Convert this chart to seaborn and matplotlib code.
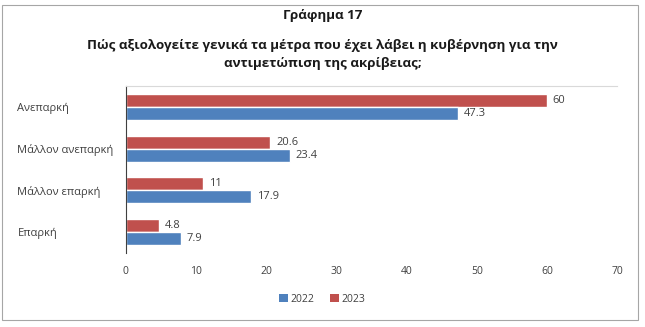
import matplotlib
matplotlib.use("Agg")
import matplotlib.pyplot as plt
import seaborn as sns
import pandas as pd
from matplotlib.patches import Patch, Rectangle

categories = ["Ανεπαρκή", "Μάλλον ανεπαρκή", "Μάλλον επαρκή", "Επαρκή"]
values_2022 = [47.3, 23.4, 17.9, 7.9]
values_2023 = [60, 20.6, 11, 4.8]
years = ["2022", "2023"]
colors = {"2022": "#4F81BD", "2023": "#C0504D"}
xticks = [0, 10, 20, 30, 40, 50, 60, 70]

df = pd.DataFrame({
    "cat": categories * 2,
    "year": ["2023"] * 4 + ["2022"] * 4,
    "val": values_2023 + values_2022,
})

sns.set_theme(style="white")
plt.rcParams["font.family"] = ["Open Sans", "DejaVu Sans"]

fig = plt.figure(figsize=(6.45, 3.27), dpi=100)
ax = fig.add_axes([0.195, 0.226, 0.762, 0.511])

sns.barplot(data=df, y="cat", x="val", hue="year", hue_order=["2023", "2022"],
            order=categories, palette=colors, orient="h", width=0.62,
            ax=ax, legend=False, saturation=1)

for cont in ax.containers:
    ax.bar_label(cont, labels=[f"{v:g}" for v in cont.datavalues],
                 padding=4, fontsize=8, color="#404040")

ax.set_xlim(0, 70)
ax.set_xticks(xticks)
ax.set_xticklabels([str(t) for t in xticks], fontsize=7.5, color="#404040")
ax.tick_params(axis="x", length=0, pad=9)
ax.tick_params(axis="y", length=0, pad=78, labelsize=8, labelcolor="#404040")
for lab in ax.get_yticklabels():
    lab.set_horizontalalignment("left")
ax.set_xlabel("")
ax.set_ylabel("")
ax.spines["left"].set_color("#404040")
ax.spines["left"].set_linewidth(0.8)
ax.spines["bottom"].set_visible(False)
ax.spines["right"].set_visible(False)
ax.spines["top"].set_color("#D9D9D9")
ax.spines["top"].set_linewidth(0.8)

fig.text(0.5, 0.952, "Γράφημα 17", ha="center", va="center",
         fontsize=9.6, fontweight="bold", color="#1a1a1a")
fig.text(0.5, 0.833, "Πώς αξιολογείτε γενικά τα μέτρα που έχει λάβει η κυβέρνηση για την\nαντιμετώπιση της ακρίβειας;",
         ha="center", va="center", fontsize=9.6, fontweight="bold", color="#1a1a1a",
         linespacing=1.5)

handles = [Patch(facecolor=colors[y], edgecolor="none", label=y) for y in years]
fig.legend(handles=handles, loc="center", bbox_to_anchor=(0.5, 0.085), ncol=2,
           frameon=False, fontsize=7.5, handlelength=0.8, handleheight=0.8,
           handletextpad=0.3, columnspacing=1.5, labelcolor="#404040")

fig.patches.append(Rectangle((0.003, 0.02), 0.986, 0.965, transform=fig.transFigure,
                             fill=False, edgecolor="#A6A6A6", linewidth=0.8))

fig.savefig("out.png", dpi=100)
